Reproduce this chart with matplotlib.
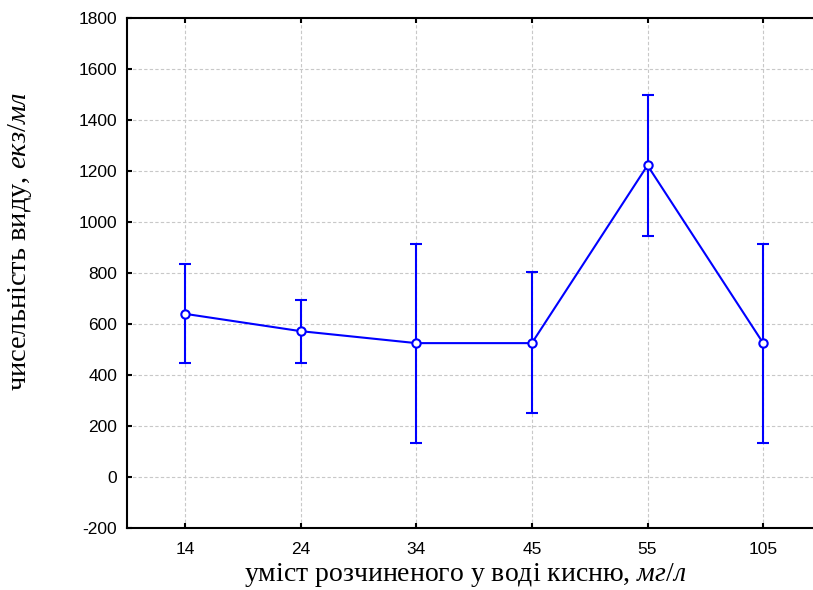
#!/usr/bin/env python3
"""Species abundance vs dissolved oxygen content (mean with error bars)."""

import matplotlib
matplotlib.use("Agg")
import matplotlib.pyplot as plt

# Data
oxygen_labels = ["14", "24", "34", "45", "55", "105"]
abundance_mean = [640, 572, 525, 525, 1222, 525]
abundance_low = [447, 448, 135, 250, 947, 135]
abundance_high = [836, 695, 915, 802, 1498, 915]

y_ticks = [-200, 0, 200, 400, 600, 800, 1000, 1200, 1400, 1600, 1800]

plt.rcParams["mathtext.fontset"] = "custom"
plt.rcParams["mathtext.rm"] = "Liberation Serif"
plt.rcParams["mathtext.it"] = "Liberation Serif:italic"
plt.rcParams["axes.unicode_minus"] = False

W, H = 813, 590
fig = plt.figure(figsize=(W / 100, H / 100), dpi=100)
# right edge of the frame runs past the image, as in the original
ax = fig.add_axes([127 / W, (H - 528) / H, (821 - 127) / W, (528 - 18) / H])

x = list(range(len(oxygen_labels)))
err_low = [m - lo for m, lo in zip(abundance_mean, abundance_low)]
err_high = [hi - m for m, hi in zip(abundance_mean, abundance_high)]

ax.errorbar(x, abundance_mean, yerr=[err_low, err_high], color="#0000ff",
            linewidth=1.5, elinewidth=1.5, capsize=4.5, capthick=1.5,
            marker="o", markersize=6, markerfacecolor="white",
            markeredgecolor="#0000ff", markeredgewidth=1.5, zorder=3)

ax.set_xlim(-0.5, 5.5)
ax.set_ylim(-200, 1800)
ax.set_xticks(x)
ax.set_xticklabels(oxygen_labels)
ax.set_yticks(y_ticks)

ax.grid(True, color="#c8c8c8", linestyle=(0, (3, 2)), linewidth=0.8)
ax.set_axisbelow(True)

for side in ["left", "bottom", "top"]:
    ax.spines[side].set_linewidth(1.5)
ax.spines["right"].set_visible(False)

ax.tick_params(axis="both", direction="in", length=3.5, width=1.5,
               labelsize=12.5, pad=7)
ax.tick_params(axis="x", top=True, pad=10)
for lbl in ax.get_xticklabels() + ax.get_yticklabels():
    lbl.set_fontfamily("Liberation Sans")

ax.set_xlabel("уміст розчиненого у воді кисню, $\\mathit{мг/л}$",
              fontsize=20, fontfamily="Liberation Serif")
ax.set_ylabel("чисельність виду, $\\mathit{екз/мл}$",
              fontsize=20.5, fontfamily="Liberation Serif")
ax.xaxis.set_label_coords((465 - 127) / (821 - 127), -(561 - 528) / (528 - 18))
ax.yaxis.set_label_coords(-(127 - 34) / (821 - 127), (528 - 242) / (528 - 18))

fig.savefig("out.png", dpi=100)
